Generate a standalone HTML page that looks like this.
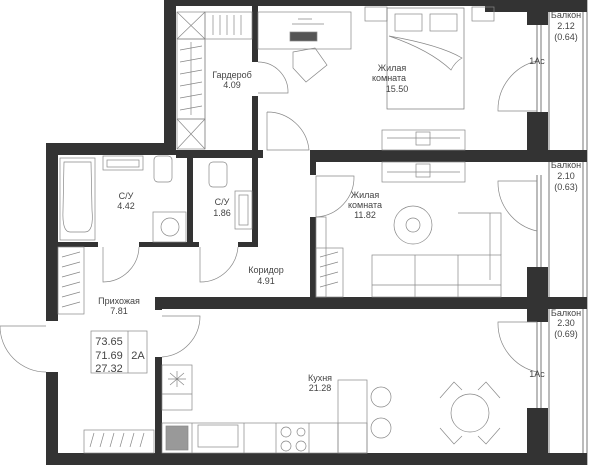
<!DOCTYPE html>
<html><head><meta charset="utf-8"><style>
html,body{margin:0;padding:0;background:#fff;}
svg{display:block;}
text{font-family:"Liberation Sans",sans-serif;font-size:9px;fill:#444;text-anchor:middle;}
.w{fill:#333;}
.l{fill:none;stroke:#555;stroke-width:0.8;}
.t{fill:none;stroke:#888;stroke-width:0.7;}
</style></head><body>
<svg width="600" height="465" viewBox="0 0 600 465" xmlns="http://www.w3.org/2000/svg">
<g class="l">
<line x1="549" y1="12" x2="549" y2="453"/><line x1="583" y1="5" x2="583" y2="453"/><line x1="587" y1="0" x2="587" y2="465"/>
<line x1="537" y1="25" x2="537" y2="112"/><line x1="541" y1="25" x2="541" y2="112"/>
<line x1="537" y1="175" x2="537" y2="267"/><line x1="541" y1="175" x2="541" y2="267"/>
<line x1="537" y1="322" x2="537" y2="408"/><line x1="541" y1="322" x2="541" y2="408"/>
</g>
<g class="w">
<rect x="164" y="0" width="423" height="6"/>
<rect x="485" y="0" width="102" height="12"/>
<rect x="164" y="0" width="12" height="150"/>
<rect x="46" y="143" width="130" height="12"/>
<rect x="176" y="150" width="87" height="8"/>
<rect x="252" y="6" width="6" height="56"/>
<rect x="252" y="96" width="6" height="54"/>
<rect x="527" y="0" width="21" height="25"/>
<rect x="527" y="112" width="21" height="50"/>
<rect x="310" y="150" width="277" height="12"/>
<rect x="46" y="143" width="12" height="178"/>
<rect x="46" y="372" width="12" height="93"/>
<rect x="58" y="242" width="40" height="5"/>
<rect x="139" y="242" width="60" height="5"/>
<rect x="238" y="242" width="20" height="5"/>
<rect x="187" y="155" width="6" height="92"/>
<rect x="252" y="155" width="6" height="92"/>
<rect x="310" y="162" width="6" height="13"/>
<rect x="310" y="217" width="6" height="81"/>
<rect x="155" y="297" width="432" height="12"/>
<rect x="155" y="297" width="7" height="13"/>
<rect x="155" y="357" width="7" height="98"/>
<rect x="527" y="267" width="21" height="42"/>
<rect x="527" y="309" width="21" height="13"/>
<rect x="527" y="408" width="21" height="45"/>
<rect x="46" y="453" width="541" height="12"/>
<rect x="548" y="150" width="39" height="8"/>
<rect x="548" y="297" width="39" height="9"/>
</g>
<g class="t">
<path d="M258 62 A30 30 0 0 1 288 93 L258 93"/>
<path d="M267 112 L267 150 L309 150 A42 42 0 0 0 267 112"/>
<path d="M103 247 L103 282 A36 36 0 0 0 139 247"/>
<path d="M200 247 L200 282 A38 38 0 0 0 238 247"/>
<path d="M316 217 L316 176 L354 176 A40 40 0 0 1 316 217"/>
<path d="M162 316 L200 316 A41 41 0 0 1 162 357"/>
<path d="M0 326 L46 326 M0 326 A46 46 0 0 0 46 372"/>
<path d="M537 111 L498 111 A50 50 0 0 1 537 61"/>
<path d="M537 181 L498 181 A50 50 0 0 0 537 231"/>
<path d="M537 322 L498 322 A50 50 0 0 0 537 372"/>
</g>
<g class="t">
<rect x="177" y="12" width="28" height="27"/><path d="M177 12 L205 39 M205 12 L177 39"/>
<rect x="177" y="119" width="28" height="30"/><path d="M177 119 L205 149 M205 119 L177 149"/>
<rect x="177" y="39" width="28" height="80"/><line x1="191" y1="42" x2="191" y2="115"/>
<path d="M180 50l22 -4M180 62l22 -4M180 74l22 -4M180 86l22 -4M180 98l22 -4M180 110l22 -4"/>
<rect x="205" y="12" width="47" height="27"/>
<path d="M213 15v20M220 15v20M227 15v20M234 15v20M241 15v20"/>
<line x1="205" y1="39" x2="205" y2="149"/>
</g>
<g class="t">
<rect x="258" y="12" width="93" height="37"/>
<rect x="290" y="32" width="27" height="9" fill="#555"/>
<path d="M292 24 L324 24 M298 19 h14"/>
<path d="M293 52 L315 48 L327 65 L306 82 L293 68 Z"/>
<rect x="365" y="7" width="22" height="14"/><rect x="472" y="7" width="22" height="14"/>
<rect x="387" y="8" width="77" height="101" stroke="#777"/>
<rect x="395" y="14" width="27" height="17"/><rect x="430" y="14" width="27" height="17"/>
<path d="M389 36 Q440 45 462 58 Q455 62 451 70 Q430 50 389 36"/>
<rect x="382" y="130" width="83" height="20"/><line x1="387" y1="138" x2="460" y2="138"/>
<rect x="382" y="162" width="83" height="20"/><line x1="387" y1="172" x2="460" y2="172"/>
<rect x="416" y="132" width="14" height="13"/><rect x="416" y="164" width="14" height="13"/>
</g>
<g class="t">
<rect x="60" y="158" width="35" height="82"/><path d="M64 162 L91 162 L92 210 Q94 232 85 232 L70 232 Q62 232 63 210 Z"/>
<rect x="103" y="156" width="40" height="14"/><rect x="107" y="160" width="32" height="7"/>
<rect x="154" y="156" width="18" height="26" rx="4"/>
<rect x="153" y="212" width="33" height="30"/><circle cx="170" cy="227" r="9"/>
<rect x="209" y="162" width="18" height="25" rx="4"/>
<rect x="235" y="191" width="17" height="38"/><rect x="239" y="195" width="9" height="30"/>
</g>
<g class="t">
<rect x="58" y="247" width="26" height="67"/>
<path d="M62 257l18 -5M62 267l18 -5M62 277l18 -5M62 287l18 -5M62 297l18 -5M62 307l18 -5"/>
<rect x="84" y="430" width="70" height="23"/>
<path d="M90 447l4-14M100 447l4-14M110 447l4-14M120 447l4-14M130 447l4-14M140 447l4-14"/>
<rect x="316" y="217" width="10" height="80"/>
<rect x="316" y="248" width="27" height="49"/>
<path d="M320 257l18 -5M320 267l18 -5M320 277l18 -5M320 287l18 -5"/>
</g>
<g class="t">
<circle cx="413" cy="225" r="19"/><circle cx="413" cy="225" r="7"/>
<rect x="372" y="255" width="129" height="42"/>
<path d="M372 285h129M415 255v42M458 255v42M458 213h43v42M490 213v67"/>
</g>
<g class="t">
<rect x="162" y="365" width="30" height="45"/><line x1="162" y1="394" x2="192" y2="394"/>
<path d="M170 373l14 12M184 373l-14 12M177 371v16M168 379h18"/>
<rect x="162" y="423" width="205" height="30"/>
<path d="M192 423v30M244 423v30M276 423v30M309 423v30M338 423v30"/>
<rect x="338" y="380" width="29" height="73"/>
<rect x="166" y="426" width="22" height="24" fill="#999"/>
<rect x="198" y="425" width="40" height="22"/>
<circle cx="286" cy="432" r="5"/><circle cx="301" cy="432" r="4"/><circle cx="286" cy="446" r="5"/><circle cx="301" cy="446" r="5"/>
<circle cx="381" cy="397" r="10"/><circle cx="381" cy="428" r="10"/>
<circle cx="470" cy="413" r="19"/>
<path d="M440 398l14 -16 8 8M500 398l-14 -16 -8 8M440 428l14 16 8 -8M500 428l-14 16 -8 -8"/>
</g>
<g class="t"><rect x="91" y="331" width="56" height="42"/><line x1="128" y1="331" x2="128" y2="373"/></g>
<text x="109" y="345" style="font-size:11px">73.65</text>
<text x="109" y="359" style="font-size:11px">71.69</text>
<text x="109" y="372" style="font-size:11px">27.32</text>
<text x="138" y="359" style="font-size:11px">2A</text>
<text x="232" y="78">Гардероб</text><text x="232" y="88">4.09</text>
<text x="392" y="71">Жилая</text><text x="389" y="81">комната</text><text x="397" y="92">15.50</text>
<text x="566" y="18">Балкон</text><text x="566" y="29">2.12</text><text x="566" y="40">(0.64)</text>
<text x="537" y="64">1Ас</text>
<text x="126" y="199">С/У</text><text x="126" y="209">4.42</text>
<text x="222" y="205">С/У</text><text x="222" y="216">1.86</text>
<text x="365" y="198">Жилая</text><text x="365" y="208">комната</text><text x="365" y="218">11.82</text>
<text x="566" y="168">Балкон</text><text x="566" y="179">2.10</text><text x="566" y="190">(0.63)</text>
<text x="266" y="273">Коридор</text><text x="266" y="284">4.91</text>
<text x="119" y="304">Прихожая</text><text x="119" y="314">7.81</text>
<text x="566" y="316">Балкон</text><text x="566" y="326">2.30</text><text x="566" y="337">(0.69)</text>
<text x="320" y="381">Кухня</text><text x="320" y="391">21.28</text>
<text x="537" y="377">1Ас</text>
</svg>
</body></html>
